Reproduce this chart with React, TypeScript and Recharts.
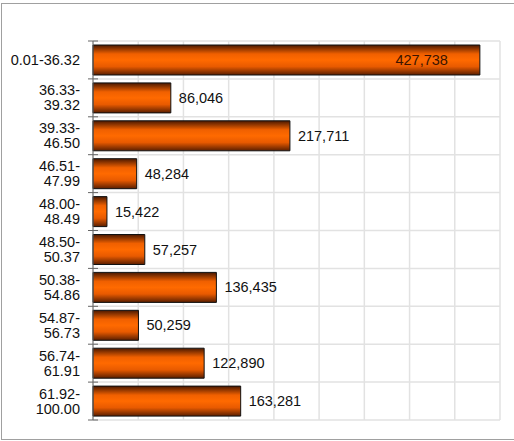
import { Bar, BarChart, CartesianGrid, LabelList, XAxis, YAxis } from "recharts";

const categories = [
	"0.01-36.32",
	"36.33-\n39.32",
	"39.33-\n46.50",
	"46.51-\n47.99",
	"48.00-\n48.49",
	"48.50-\n50.37",
	"50.38-\n54.86",
	"54.87-\n56.73",
	"56.74-\n61.91",
	"61.92-\n100.00",
];
const counts = [427738, 86046, 217711, 48284, 15422, 57257, 136435, 50259, 122890, 163281];
const xTicks = [0, 50000, 100000, 150000, 200000, 250000, 300000, 350000, 400000, 450000];

const data = categories.map((name, i) => ({ name, value: counts[i] }));

const W = 514;
const H = 441;
const M = { top: 41, right: 14, bottom: 21, left: 0 };
const AXIS_W = 93;
const BAND = (H - M.top - M.bottom) / categories.length;
const FONT = "Arial, 'Liberation Sans', sans-serif";

const CategoryTick = (props: any) => {
	const { x, y, payload, index } = props;
	const lines = String(payload.value).split("\n");
	const axisX = x + 13;
	return (
		<g>
			<line x1={axisX - 5} x2={axisX + 5} y1={y - BAND / 2} y2={y - BAND / 2} stroke="#666" />
			{index === categories.length - 1 && (
				<line x1={axisX - 5} x2={axisX + 5} y1={y + BAND / 2} y2={y + BAND / 2} stroke="#666" />
			)}
			{lines.map((t, i) => (
				<text
					key={i}
					x={x}
					y={y + (i - (lines.length - 1) / 2) * 15}
					textAnchor="end"
					dominantBaseline="central"
					fill="#111"
					style={{ fontSize: 14.5, fontFamily: FONT }}>
					{t}
				</text>
			))}
		</g>
	);
};

const ValueLabel = (props: any) => {
	const { x, y, width, height, value } = props;
	const inside = value > 400000;
	const tx = inside ? x + width - 32 : x + width + 8;
	return (
		<text
			x={tx}
			y={y + height / 2}
			textAnchor={inside ? "end" : "start"}
			dominantBaseline="central"
			fill={inside ? "#3a1400" : "#111"}
			style={{ fontSize: 14.5, fontFamily: FONT }}>
			{Number(value).toLocaleString("en-US")}
		</text>
	);
};

export default function App() {
	return (
		<div style={{ position: "absolute", left: 0, top: 0, width: W, height: H, overflow: "hidden", background: "#fff" }}>
			<div
				style={{
					position: "absolute",
					left: 1,
					top: 3,
					width: W + 10,
					height: 435,
					border: "1px solid #a0a0a0",
				}}
			/>
			<BarChart width={W} height={H} data={data} layout="vertical" margin={M} barCategoryGap={4}>
				<defs>
					<linearGradient id="barGrad" x1="0" y1="0" x2="0" y2="1">
						<stop offset="0%" stopColor="#4a1800" />
						<stop offset="30%" stopColor="#f06000" />
						<stop offset="50%" stopColor="#ff6a00" />
						<stop offset="72%" stopColor="#e85a00" />
						<stop offset="100%" stopColor="#5a1e00" />
					</linearGradient>
				</defs>
				<CartesianGrid
					stroke="#e2e2e2"
					strokeWidth={1.5}
					horizontalCoordinatesGenerator={({ offset }: any) =>
						categories.map((_, i) => offset.top + (i * offset.height) / categories.length).concat(offset.top + offset.height)
					}
				/>
				<XAxis type="number" domain={[0, 450000]} ticks={xTicks} interval={0} hide />
				<YAxis
					type="category"
					dataKey="name"
					width={AXIS_W}
					axisLine={{ stroke: "#666" }}
					tickLine={false}
					tickSize={0}
					tickMargin={13}
					tick={<CategoryTick />}
					interval={0}
				/>
				<Bar dataKey="value" fill="url(#barGrad)" stroke="#111" strokeWidth={1} isAnimationActive={false}>
					<LabelList dataKey="value" content={<ValueLabel />} />
				</Bar>
			</BarChart>
		</div>
	);
}
